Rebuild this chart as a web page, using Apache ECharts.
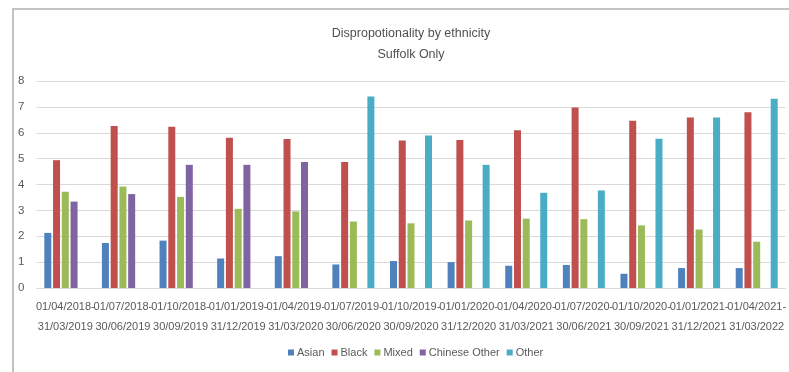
<!DOCTYPE html>
<html>
<head>
<meta charset="utf-8">
<script src="https://cdn.jsdelivr.net/npm/echarts@6/dist/echarts.min.js"></script>
<style>
  html, body { margin: 0; padding: 0; background: #ffffff; }
  #chart { width: 789px; height: 372px; }
</style>
</head>
<body>
<div id="chart"></div>
<script>
// Quarterly periods (start-end) for Suffolk
const periods = [
  '01/04/2018-\n31/03/2019', '01/07/2018-\n30/06/2019', '01/10/2018-\n30/09/2019',
  '01/01/2019-\n31/12/2019', '01/04/2019-\n31/03/2020', '01/07/2019-\n30/06/2020',
  '01/10/2019-\n30/09/2020', '01/01/2020-\n31/12/2020', '01/04/2020-\n31/03/2021',
  '01/07/2020-\n30/06/2021', '01/10/2020-\n30/09/2021', '01/01/2021-\n31/12/2021',
  '01/04/2021-\n31/03/2022'
];

// Disproportionality ratios per ethnic group
const asian = [2.13, 1.74, 1.83, 1.14, 1.23, 0.91, 1.04, 1.00, 0.86, 0.89, 0.55, 0.77, 0.77];
const black = [4.94, 6.26, 6.23, 5.81, 5.76, 4.87, 5.70, 5.72, 6.10, 6.98, 6.46, 6.59, 6.79];
const mixed = [3.72, 3.92, 3.52, 3.06, 2.96, 2.57, 2.50, 2.61, 2.68, 2.66, 2.42, 2.26, 1.79];
const chineseOther = [3.34, 3.63, 4.76, 4.76, 4.87, null, null, null, null, null, null, null, null];
const other = [null, null, null, null, null, 7.40, 5.89, 4.76, 3.68, 3.77, 5.77, 6.59, 7.31];

const yTicks = [0, 1, 2, 3, 4, 5, 6, 7, 8];

const textColor = '#595959';
const font = '"Liberation Sans", Arial, sans-serif';

function barSeries(name, data, color) {
  return {
    name: name,
    type: 'bar',
    data: data,
    barWidth: 7,
    barGap: '25%',
    itemStyle: { color: color },
    emphasis: { disabled: true }
  };
}

const chart = echarts.init(document.getElementById('chart'), null, { renderer: 'canvas' });
chart.setOption({
  animation: false,
  backgroundColor: '#ffffff',
  title: {
    text: 'Dispropotionality by ethnicity\nSuffolk Only',
    left: 406,
    textAlign: 'center',
    top: 18,
    textStyle: {
      fontFamily: font,
      fontSize: 12.5,
      fontWeight: 'normal',
      color: '#505050',
      lineHeight: 21
    }
  },
  graphic: [{
    type: 'polyline',
    shape: { points: [[13, 372], [13, 9], [789, 9]] },
    style: { stroke: '#c3c3c3', lineWidth: 2, fill: null },
    silent: true
  }],
  legend: {
    bottom: 9,
    left: 283,
    itemWidth: 6,
    itemHeight: 6,
    itemGap: 7,
    icon: 'rect',
    selectedMode: false,
    textStyle: { fontFamily: font, fontSize: 11, color: textColor, padding: [0, 0, 0, -2] },
    data: ['Asian', 'Black', 'Mixed', 'Chinese Other', 'Other']
  },
  grid: { left: 36.5, right: 2, top: 81, bottom: 84, containLabel: false },
  xAxis: {
    type: 'category',
    data: periods,
    axisLine: { show: true, lineStyle: { color: '#d9d9d9' } },
    axisTick: { show: false },
    axisLabel: {
      interval: 0,
      margin: 9,
      fontFamily: font,
      fontSize: 11,
      color: textColor,
      lineHeight: 20
    }
  },
  yAxis: {
    type: 'value',
    min: yTicks[0],
    max: yTicks[yTicks.length - 1],
    interval: 1,
    axisLine: { show: false },
    axisTick: { show: false },
    axisLabel: { margin: 12, fontFamily: font, fontSize: 11.5, color: textColor },
    splitLine: { lineStyle: { color: '#d9d9d9', width: 1 } }
  },
  series: [
    barSeries('Asian', asian, '#4f81bd'),
    barSeries('Black', black, '#c0504d'),
    barSeries('Mixed', mixed, '#9bbb59'),
    barSeries('Chinese Other', chineseOther, '#8064a2'),
    barSeries('Other', other, '#4bacc6')
  ]
});
</script>
</body>
</html>
